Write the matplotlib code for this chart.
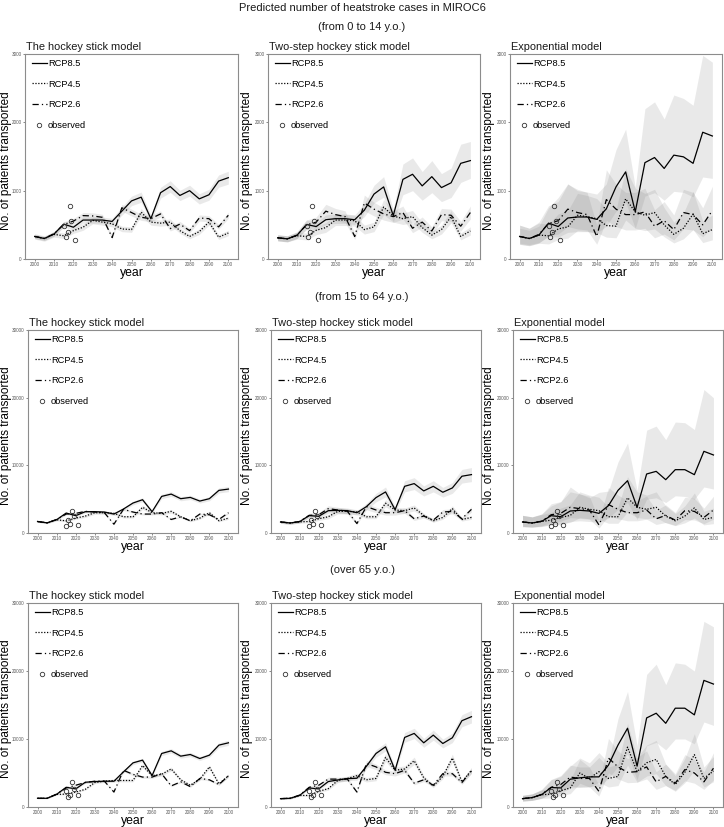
#!/usr/bin/env python3
"""Predicted number of heatstroke cases in MIROC6: three age groups x three models."""

import matplotlib

matplotlib.use("Agg")
import matplotlib.pyplot as plt
from matplotlib.lines import Line2D

plt.rcParams["font.family"] = ["Liberation Sans", "DejaVu Sans"]

YEARS = [2000, 2005, 2010, 2015, 2020, 2025, 2030, 2035, 2040, 2045, 2050,
         2055, 2060, 2065, 2070, 2075, 2080, 2085, 2090, 2095, 2100]
MODELS = ["The hockey stick model", "Two-step hockey stick model", "Exponential model"]
SCENARIOS = ["RCP8.5", "RCP4.5", "RCP2.6"]
AGE_GROUPS = ["(from 0 to 14 y.o.)", "(from 15 to 64 y.o.)", "(over 65 y.o.)"]

OBS_YEARS = [2015, 2016, 2017, 2018, 2019, 2021]
OBS_CHILD = [490, 323, 392, 780, 549, 284]
OBS_ADULT = [1080, 1970, 1330, 3300, 2500, 1230]
OBS_ELDER = [2300, 1500, 1800, 3640, 2700, 1800]

# ---- 0-14 y.o. ----
C_HS_85 = [330, 300, 365, 510, 465, 570, 570, 570, 550, 700, 850, 905, 590, 970, 1060, 930, 1000, 880, 940, 1140, 1190]
C_HS_85_LO = [300, 275, 335, 470, 425, 525, 525, 525, 505, 640, 780, 830, 540, 890, 975, 855, 920, 805, 860, 1050, 1095]
C_HS_85_HI = [360, 325, 395, 550, 505, 615, 615, 615, 595, 760, 920, 980, 640, 1050, 1145, 1005, 1080, 955, 1020, 1230, 1285]
C_HS_45 = [330, 300, 360, 340, 415, 465, 565, 540, 515, 440, 430, 685, 540, 525, 540, 415, 330, 400, 540, 320, 380]
C_HS_45_LO = [290, 260, 320, 300, 375, 420, 515, 495, 470, 400, 390, 630, 495, 480, 495, 375, 295, 360, 495, 285, 340]
C_HS_45_HI = [370, 340, 400, 380, 455, 510, 615, 585, 560, 480, 470, 740, 585, 570, 585, 455, 365, 440, 585, 355, 420]
C_HS_26 = [330, 300, 370, 505, 555, 635, 630, 610, 315, 750, 680, 610, 590, 660, 445, 510, 415, 600, 590, 470, 640]
C_HS_26_LO = [300, 270, 335, 465, 515, 590, 585, 565, 290, 700, 630, 565, 545, 615, 410, 470, 380, 555, 545, 435, 595]
C_HS_26_HI = [360, 330, 405, 545, 595, 680, 675, 655, 340, 800, 730, 655, 635, 705, 480, 550, 450, 645, 635, 505, 685]

C_TS_85 = [310, 295, 345, 505, 475, 575, 590, 590, 575, 715, 950, 1055, 635, 1165, 1240, 1070, 1205, 1045, 1115, 1400, 1440]
C_TS_85_LO = [270, 255, 300, 440, 415, 505, 520, 520, 505, 620, 820, 905, 545, 940, 1000, 860, 970, 840, 900, 1120, 1180]
C_TS_85_HI = [350, 335, 390, 570, 535, 645, 660, 660, 645, 810, 1080, 1205, 725, 1390, 1480, 1280, 1440, 1250, 1330, 1680, 1720]
C_TS_45 = [310, 295, 340, 330, 420, 460, 570, 570, 560, 430, 470, 760, 630, 590, 620, 460, 350, 430, 620, 330, 410]
C_TS_45_LO = [265, 250, 290, 280, 355, 390, 490, 490, 480, 365, 400, 650, 540, 505, 530, 390, 295, 365, 530, 280, 350]
C_TS_45_HI = [355, 340, 390, 380, 485, 530, 650, 650, 640, 495, 540, 870, 720, 675, 710, 530, 405, 495, 710, 380, 470]
C_TS_26 = [310, 295, 350, 500, 540, 700, 650, 620, 330, 820, 730, 660, 620, 680, 450, 540, 410, 650, 640, 480, 680]
C_TS_26_LO = [265, 250, 300, 430, 465, 600, 560, 535, 285, 705, 630, 570, 535, 585, 385, 465, 350, 560, 550, 410, 585]
C_TS_26_HI = [355, 340, 400, 570, 615, 800, 740, 705, 375, 935, 830, 750, 705, 775, 515, 615, 470, 740, 730, 550, 775]

C_EX_85 = [330, 300, 350, 525, 475, 600, 615, 615, 580, 735, 1055, 1275, 690, 1410, 1485, 1325, 1520, 1495, 1400, 1855, 1800]
C_EX_85_LO = [230, 210, 240, 330, 320, 390, 400, 400, 380, 480, 700, 830, 450, 920, 970, 860, 990, 975, 910, 1200, 1180]
C_EX_85_HI = [450, 420, 480, 750, 900, 1100, 1000, 980, 950, 1100, 1600, 1900, 1050, 2200, 2300, 2050, 2400, 2350, 2250, 2980, 2880]
C_EX_45 = [330, 300, 350, 340, 440, 470, 640, 620, 590, 490, 480, 880, 690, 640, 680, 500, 360, 450, 660, 370, 430]
C_EX_45_LO = [215, 195, 230, 220, 285, 305, 415, 405, 385, 320, 310, 570, 450, 415, 440, 325, 235, 295, 430, 240, 280]
C_EX_45_HI = [495, 450, 525, 510, 660, 705, 960, 930, 885, 735, 720, 1320, 1035, 960, 1020, 750, 540, 675, 990, 555, 645]
C_EX_26 = [330, 300, 360, 520, 560, 730, 680, 650, 330, 870, 730, 650, 650, 690, 480, 560, 430, 680, 650, 500, 710]
C_EX_26_LO = [215, 195, 235, 340, 365, 475, 440, 425, 215, 565, 475, 425, 425, 450, 310, 365, 280, 440, 425, 325, 460]
C_EX_26_HI = [495, 450, 540, 780, 840, 1095, 1020, 975, 495, 1305, 1095, 975, 975, 1035, 720, 840, 645, 1020, 975, 750, 1065]

# ---- 15-64 y.o. ----
A_HS_85 = [1700, 1500, 1970, 2950, 2560, 3150, 3150, 3100, 2800, 3540, 4430, 4920, 3150, 5410, 5750, 5070, 5260, 4720, 5070, 6300, 6490]
A_HS_85_LO = [1600, 1400, 1850, 2780, 2400, 2960, 2960, 2910, 2630, 3330, 4160, 4620, 2960, 5080, 5400, 4760, 4940, 4430, 4760, 5920, 6100]
A_HS_85_HI = [1800, 1600, 2090, 3120, 2720, 3340, 3340, 3290, 2970, 3750, 4700, 5220, 3340, 5740, 6100, 5380, 5580, 5010, 5380, 6680, 6880]
A_HS_45 = [1700, 1500, 1950, 1800, 2200, 2500, 3000, 3000, 2900, 2400, 2400, 3800, 3000, 2900, 3200, 2400, 1800, 2200, 3000, 1800, 2200]
A_HS_45_LO = [1560, 1380, 1790, 1650, 2020, 2300, 2760, 2760, 2670, 2210, 2210, 3500, 2760, 2670, 2940, 2210, 1660, 2020, 2760, 1660, 2020]
A_HS_45_HI = [1840, 1620, 2110, 1950, 2380, 2700, 3240, 3240, 3130, 2590, 2590, 4100, 3240, 3130, 3460, 2590, 1940, 2380, 3240, 1940, 2380]
A_HS_26 = [1700, 1500, 2000, 2800, 2900, 3200, 3100, 3000, 1300, 3500, 3100, 2800, 2800, 3000, 2000, 2400, 1800, 2800, 2700, 2000, 3000]
A_HS_26_LO = [1615, 1425, 1900, 2660, 2755, 3040, 2945, 2850, 1235, 3325, 2945, 2660, 2660, 2850, 1900, 2280, 1710, 2660, 2565, 1900, 2850]
A_HS_26_HI = [1785, 1575, 2100, 2940, 3045, 3360, 3255, 3150, 1365, 3675, 3255, 2940, 2940, 3150, 2100, 2520, 1890, 2940, 2835, 2100, 3150]

A_TS_85 = [1630, 1480, 1680, 2570, 2470, 3300, 3350, 3300, 3000, 3900, 5230, 6070, 3450, 6900, 7300, 6220, 6900, 6020, 6660, 8390, 8630]
A_TS_85_LO = [1430, 1300, 1480, 2260, 2170, 2900, 2950, 2900, 2640, 3430, 4600, 5340, 3040, 6070, 6420, 5470, 6070, 5300, 5860, 7380, 7590]
A_TS_85_HI = [1830, 1660, 1880, 2880, 2770, 3700, 3750, 3700, 3360, 4370, 5860, 6800, 3860, 7730, 8180, 6970, 7730, 6740, 7460, 9400, 9670]
A_TS_45 = [1630, 1480, 1650, 1700, 2100, 2400, 3200, 3200, 3100, 2400, 2400, 4400, 3400, 3300, 3700, 2600, 1800, 2300, 3600, 2000, 2300]
A_TS_45_LO = [1430, 1300, 1450, 1500, 1850, 2110, 2820, 2820, 2730, 2110, 2110, 3870, 2990, 2900, 3260, 2290, 1580, 2020, 3170, 1760, 2020]
A_TS_45_HI = [1830, 1660, 1850, 1900, 2350, 2690, 3580, 3580, 3470, 2690, 2690, 4930, 3810, 3700, 4140, 2910, 2020, 2580, 4030, 2240, 2580]
A_TS_26 = [1630, 1480, 1700, 2600, 2700, 3600, 3400, 3200, 1400, 3900, 3400, 3000, 3000, 3300, 2100, 2500, 1900, 3100, 3200, 2100, 3500]
A_TS_26_LO = [1430, 1300, 1500, 2290, 2380, 3170, 2990, 2820, 1230, 3430, 2990, 2640, 2640, 2900, 1850, 2200, 1670, 2730, 2820, 1850, 3080]
A_TS_26_HI = [1830, 1660, 1900, 2910, 3020, 4030, 3810, 3580, 1570, 4370, 3810, 3360, 3360, 3700, 2350, 2800, 2130, 3470, 3580, 2350, 3920]

A_EX_85 = [1630, 1480, 1720, 2560, 2410, 3250, 3350, 3250, 2900, 4040, 6300, 7730, 3790, 8720, 9110, 7880, 9360, 9360, 8620, 12070, 11530]
A_EX_85_LO = [900, 850, 950, 1300, 1200, 1700, 1800, 1700, 1600, 2200, 3500, 4500, 2000, 5000, 5200, 4500, 5500, 5400, 5000, 6800, 6500]
A_EX_85_HI = [2600, 2400, 2800, 4000, 4600, 6800, 5800, 5200, 6000, 6200, 10500, 13300, 6300, 15200, 15800, 13800, 16400, 16300, 15300, 21200, 20000]
A_EX_45 = [1630, 1480, 1700, 1900, 2300, 2600, 3800, 3500, 3300, 2400, 2400, 5200, 3800, 3500, 3800, 2500, 1800, 2500, 3700, 2000, 2300]
A_EX_45_LO = [980, 890, 1020, 1140, 1380, 1560, 2280, 2100, 1980, 1440, 1440, 3120, 2280, 2100, 2280, 1500, 1080, 1500, 2220, 1200, 1380]
A_EX_45_HI = [2610, 2370, 2720, 3040, 3680, 4160, 6080, 5600, 5280, 3840, 3840, 8320, 6080, 5600, 6080, 4000, 2880, 4000, 5920, 3200, 3680]
A_EX_26 = [1630, 1480, 1750, 2700, 2900, 3800, 3600, 3400, 1200, 4200, 3500, 3000, 3000, 3400, 2100, 2600, 1900, 3300, 3200, 2300, 3400]
A_EX_26_LO = [980, 890, 1050, 1620, 1740, 2280, 2160, 2040, 720, 2520, 2100, 1800, 1800, 2040, 1260, 1560, 1140, 1980, 1920, 1380, 2040]
A_EX_26_HI = [2610, 2370, 2800, 4320, 4640, 6080, 5760, 5440, 1920, 6720, 5600, 4800, 4800, 5440, 3360, 4160, 3040, 5280, 5120, 3680, 5440]

# ---- over 65 y.o. ----
E_HS_85 = [1280, 1280, 1870, 2900, 2660, 3640, 3740, 3790, 3790, 5160, 6490, 6890, 4620, 7870, 8260, 7480, 7720, 7130, 7620, 9100, 9440]
E_HS_85_LO = [1230, 1230, 1800, 2780, 2550, 3490, 3590, 3640, 3640, 4950, 6230, 6610, 4440, 7560, 7930, 7180, 7410, 6840, 7320, 8740, 9060]
E_HS_85_HI = [1330, 1330, 1940, 3020, 2770, 3790, 3890, 3940, 3940, 5370, 6750, 7170, 4800, 8180, 8590, 7780, 8030, 7420, 7920, 9460, 9820]
E_HS_45 = [1280, 1280, 1850, 1900, 2200, 2600, 3600, 3800, 3900, 3900, 3900, 6100, 4600, 4800, 5600, 4000, 3200, 4100, 5900, 3400, 4600]
E_HS_45_LO = [1220, 1220, 1760, 1800, 2090, 2470, 3420, 3610, 3700, 3700, 3700, 5800, 4370, 4560, 5320, 3800, 3040, 3900, 5600, 3230, 4370]
E_HS_45_HI = [1340, 1340, 1940, 2000, 2310, 2730, 3780, 3990, 4100, 4100, 4100, 6400, 4830, 5040, 5880, 4200, 3360, 4300, 6200, 3570, 4830]
E_HS_26 = [1280, 1280, 1900, 2800, 3200, 3600, 3800, 3800, 2200, 5400, 4800, 4400, 4400, 4900, 3100, 3700, 3000, 4200, 4000, 3300, 4600]
E_HS_26_LO = [1230, 1230, 1820, 2690, 3070, 3460, 3650, 3650, 2110, 5180, 4610, 4220, 4220, 4700, 2980, 3550, 2880, 4030, 3840, 3170, 4420]
E_HS_26_HI = [1330, 1330, 1980, 2910, 3330, 3740, 3950, 3950, 2290, 5620, 4990, 4580, 4580, 5100, 3220, 3850, 3120, 4370, 4160, 3430, 4780]

E_TS_85 = [1230, 1280, 1720, 2800, 2660, 3740, 3980, 4180, 4230, 6000, 7870, 8850, 5410, 10230, 10820, 9440, 10570, 9340, 10180, 12690, 13280]
E_TS_85_LO = [1140, 1190, 1600, 2600, 2470, 3480, 3700, 3890, 3930, 5580, 7320, 8230, 5030, 9510, 10060, 8780, 9830, 8690, 9470, 11800, 12350]
E_TS_85_HI = [1320, 1370, 1840, 3000, 2850, 4000, 4260, 4470, 4530, 6420, 8420, 9470, 5790, 10950, 11580, 10100, 11310, 9990, 10890, 13580, 14210]
E_TS_45 = [1230, 1280, 1700, 1700, 2300, 2700, 3900, 4200, 4600, 4000, 4200, 7300, 5400, 5600, 6800, 4300, 3100, 4500, 7200, 3700, 5400]
E_TS_45_LO = [1130, 1180, 1560, 1560, 2120, 2480, 3590, 3860, 4230, 3680, 3860, 6720, 4970, 5150, 6260, 3960, 2850, 4140, 6620, 3400, 4970]
E_TS_45_HI = [1330, 1380, 1840, 1840, 2480, 2920, 4210, 4540, 4970, 4320, 4540, 7880, 5830, 6050, 7340, 4640, 3350, 4860, 7780, 4000, 5830]
E_TS_26 = [1230, 1280, 1750, 2900, 3200, 4100, 4100, 4100, 2200, 6400, 5900, 5100, 4900, 5400, 3500, 4000, 3200, 4900, 4900, 3600, 5300]
E_TS_26_LO = [1140, 1190, 1630, 2700, 2980, 3810, 3810, 3810, 2050, 5950, 5490, 4740, 4560, 5020, 3260, 3720, 2980, 4560, 4560, 3350, 4930]
E_TS_26_HI = [1320, 1370, 1870, 3100, 3420, 4390, 4390, 4390, 2350, 6850, 6310, 5460, 5240, 5780, 3750, 4280, 3420, 5240, 5240, 3850, 5670]

E_EX_85 = [1230, 1380, 1820, 2860, 2810, 4090, 4290, 4430, 4430, 6160, 9110, 11580, 6010, 13100, 13790, 12310, 14530, 14530, 13550, 18620, 18080]
E_EX_85_LO = [900, 1000, 1300, 1900, 2000, 2800, 2900, 3000, 3000, 4200, 6000, 7800, 4000, 9000, 9500, 8400, 10000, 10000, 9300, 12500, 12000]
E_EX_85_HI = [1700, 1900, 2500, 4000, 4500, 6000, 7200, 6500, 8000, 6500, 13000, 17000, 9000, 19500, 21000, 18000, 21200, 21000, 20000, 27300, 26500]
E_EX_45 = [1230, 1380, 1800, 1900, 2400, 2800, 5000, 4200, 5200, 4200, 4500, 8800, 5200, 6500, 7000, 4500, 3300, 5100, 7700, 4200, 5300]
E_EX_45_LO = [860, 970, 1260, 1330, 1680, 1960, 3500, 2940, 3640, 2940, 3150, 6160, 3640, 4550, 4900, 3150, 2310, 3570, 5390, 2940, 3710]
E_EX_45_HI = [1720, 1930, 2520, 2660, 3360, 3920, 7000, 5880, 7280, 5880, 6300, 12320, 7280, 9100, 9800, 6300, 4620, 7140, 10780, 5880, 7420]
E_EX_26 = [1230, 1380, 1850, 2900, 3300, 4400, 4200, 4200, 2300, 7200, 5900, 5100, 5200, 5900, 3700, 4500, 3500, 5500, 5000, 3700, 5700]
E_EX_26_LO = [860, 970, 1300, 2030, 2310, 3080, 2940, 2940, 1610, 5040, 4130, 3570, 3640, 4130, 2590, 3150, 2450, 3850, 3500, 2590, 3990]
E_EX_26_HI = [1720, 1930, 2590, 4060, 4620, 6160, 5880, 5880, 3220, 10080, 8260, 7140, 7280, 8260, 5180, 6300, 4900, 7700, 7000, 5180, 7980]

Y_MAX = [3000, 30000, 30000]

FIG_W, FIG_H = 724, 827
ROW_TB = [(54, 259), (330, 533), (603, 807)]
COL_LR = [[(25, 238), (268, 480), (510, 722)],
          [(28, 238), (271, 481), (513, 723)],
          [(28, 238), (271, 481), (513, 723)]]
YLABEL_X = [6, 247, 489]
GROUP_Y = [27, 297, 570]

LINESTYLES = {"RCP8.5": "-", "RCP4.5": (0, (1, 1.3)), "RCP2.6": (0, (5, 2.5, 1, 2.5))}
BAND_COLOR = "#808080"
FRAME_COLOR = "#8c8c8c"
TICK_COLOR = "#595959"


def to_fig(left, top, right, bottom):
    return [left / FIG_W, 1 - bottom / FIG_H, (right - left) / FIG_W, (bottom - top) / FIG_H]


def panel_table():
    """Rows = age group, columns = model, each cell = list of (mid, lo, hi) per scenario."""
    return [
        [
            [(C_HS_85, C_HS_85_LO, C_HS_85_HI), (C_HS_45, C_HS_45_LO, C_HS_45_HI), (C_HS_26, C_HS_26_LO, C_HS_26_HI)],
            [(C_TS_85, C_TS_85_LO, C_TS_85_HI), (C_TS_45, C_TS_45_LO, C_TS_45_HI), (C_TS_26, C_TS_26_LO, C_TS_26_HI)],
            [(C_EX_85, C_EX_85_LO, C_EX_85_HI), (C_EX_45, C_EX_45_LO, C_EX_45_HI), (C_EX_26, C_EX_26_LO, C_EX_26_HI)],
        ],
        [
            [(A_HS_85, A_HS_85_LO, A_HS_85_HI), (A_HS_45, A_HS_45_LO, A_HS_45_HI), (A_HS_26, A_HS_26_LO, A_HS_26_HI)],
            [(A_TS_85, A_TS_85_LO, A_TS_85_HI), (A_TS_45, A_TS_45_LO, A_TS_45_HI), (A_TS_26, A_TS_26_LO, A_TS_26_HI)],
            [(A_EX_85, A_EX_85_LO, A_EX_85_HI), (A_EX_45, A_EX_45_LO, A_EX_45_HI), (A_EX_26, A_EX_26_LO, A_EX_26_HI)],
        ],
        [
            [(E_HS_85, E_HS_85_LO, E_HS_85_HI), (E_HS_45, E_HS_45_LO, E_HS_45_HI), (E_HS_26, E_HS_26_LO, E_HS_26_HI)],
            [(E_TS_85, E_TS_85_LO, E_TS_85_HI), (E_TS_45, E_TS_45_LO, E_TS_45_HI), (E_TS_26, E_TS_26_LO, E_TS_26_HI)],
            [(E_EX_85, E_EX_85_LO, E_EX_85_HI), (E_EX_45, E_EX_45_LO, E_EX_45_HI), (E_EX_26, E_EX_26_LO, E_EX_26_HI)],
        ],
    ]


def legend_handles():
    handles = [Line2D([], [], color="black", lw=0.9, ls=LINESTYLES[s]) for s in SCENARIOS]
    handles.append(Line2D([], [], ls="none", marker="o", ms=3.2, mfc="none", mec="#333333", mew=0.6))
    return handles


def draw_panel(ax, title, cell, obs, ymax, height):
    for mid, lo, hi in cell:
        ax.fill_between(YEARS, lo, hi, color=BAND_COLOR, alpha=0.17, lw=0, zorder=1)
    for scenario, (mid, lo, hi) in zip(SCENARIOS, cell):
        ax.plot(YEARS, mid, color="black", lw=0.9, ls=LINESTYLES[scenario], zorder=3)
    ax.plot(OBS_YEARS, obs, ls="none", marker="o", ms=3.2, mfc="none", mec="#333333", mew=0.6, zorder=4)

    ax.set_xlim(1995, 2105)
    ax.set_ylim(0, ymax)
    ax.set_xticks(range(2000, 2101, 10))
    ax.set_yticks([0, ymax // 3, 2 * ymax // 3, ymax])
    ax.tick_params(labelsize=3.3, colors=TICK_COLOR, length=1.5, width=0.5, pad=1)
    for spine in ax.spines.values():
        spine.set_color(FRAME_COLOR)
        spine.set_linewidth(0.8)

    ax.text(0.005, 1 + 7 / height, title, transform=ax.transAxes, ha="left", va="center",
            fontsize=7.9, color="#1a1a1a")
    ax.set_xlabel("year", fontsize=8.8, labelpad=0)
    ax.legend(legend_handles(), SCENARIOS + ["observed"], loc="upper left",
              bbox_to_anchor=(7 / 212, 1 - 5 / height), frameon=False, fontsize=6.7,
              handlelength=1.6, handletextpad=0.1, labelspacing=1.25,
              borderaxespad=0, borderpad=0)


def main():
    fig = plt.figure(figsize=(FIG_W / 100, FIG_H / 100), dpi=100)
    fig.text(0.5, 1 - 8 / FIG_H, "Predicted number of heatstroke cases in MIROC6",
             ha="center", va="center", fontsize=8, color="#1a1a1a")

    table = panel_table()
    observed = [OBS_CHILD, OBS_ADULT, OBS_ELDER]
    for r, group in enumerate(AGE_GROUPS):
        top, bottom = ROW_TB[r]
        fig.text(0.5, 1 - GROUP_Y[r] / FIG_H, group, ha="center", va="center",
                 fontsize=8, color="#1a1a1a")
        for c, model in enumerate(MODELS):
            left, right = COL_LR[r][c]
            ax = fig.add_axes(to_fig(left, top, right, bottom))
            draw_panel(ax, model, table[r][c], observed[r], Y_MAX[r], bottom - top)
            fig.text(YLABEL_X[c] / FIG_W, 1 - ((top + bottom) / 2 + 4) / FIG_H,
                     "No. of patients transported", rotation=90, ha="center", va="center",
                     fontsize=8.5)

    fig.savefig("out.png", dpi=100)
    plt.close(fig)


if __name__ == "__main__":
    main()
